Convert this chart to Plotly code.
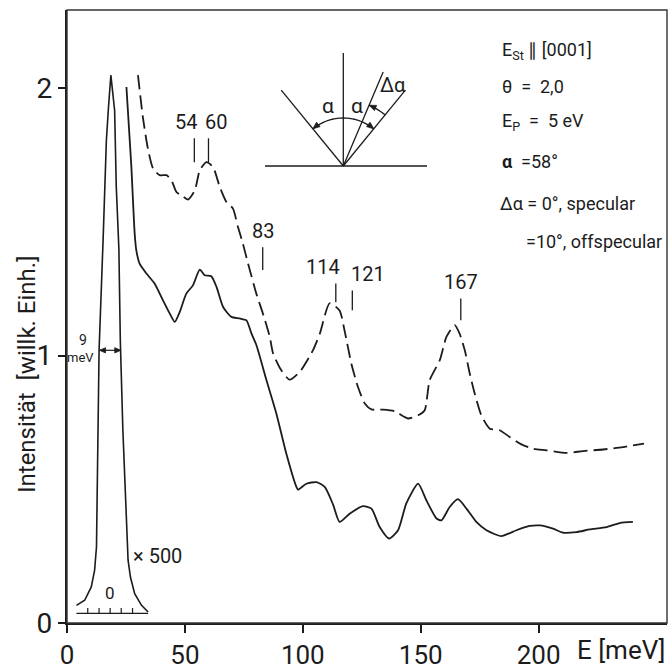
import numpy as np
import plotly.graph_objects as go

# ---------------------------------------------------------------- data
# specular spectrum (solid), energy loss in meV, intensity in arb. units
energy_specular = [25.2, 26.6, 27.3, 28.7, 29.4, 30.8, 33.7, 37.2, 40.7, 43.6, 45.7,
                   47.8, 50.6, 53.4, 56.3, 58.4, 61.2, 63.4, 66.2, 69.7, 73.2, 76.1,
                   78.2, 80.3, 84.6, 88.8, 93.0, 97.3, 98.0, 101.5, 105.8, 109.3,
                   112.8, 115.6, 119.9, 125.5, 129.1, 132.6, 136.6, 140.4, 143.9,
                   148.9, 152.4, 156.7, 158.8, 162.3, 165.8, 169.4, 173.6, 177.9,
                   184.2, 190.6, 196.2, 200.5, 206.1, 210.3, 216.0, 221.7, 228.8,
                   234.4, 240.0]
intensity_specular = [2.005, 1.806, 1.706, 1.457, 1.394, 1.344, 1.307, 1.269, 1.207,
                      1.157, 1.126, 1.163, 1.232, 1.263, 1.322, 1.301, 1.297, 1.257,
                      1.182, 1.145, 1.139, 1.132, 1.083, 1.040, 0.908, 0.783, 0.634,
                      0.509, 0.499, 0.521, 0.527, 0.509, 0.444, 0.378, 0.409, 0.437,
                      0.428, 0.359, 0.316, 0.347, 0.447, 0.521, 0.459, 0.391, 0.384,
                      0.434, 0.463, 0.428, 0.378, 0.347, 0.325, 0.347, 0.363, 0.365,
                      0.353, 0.338, 0.340, 0.350, 0.359, 0.374, 0.378]

# off-specular spectrum (dashed)
energy_offspecular = [30.1, 32.2, 34.4, 36.5, 39.3, 42.2, 44.3, 46.4, 48.5, 51.3, 54.2,
                      56.3, 59.1, 61.9, 64.8, 67.6, 70.4, 72.5, 74.6, 76.8, 80.3, 83.1,
                      86.0, 87.4, 90.9, 94.4, 98.7, 104.3, 107.2, 111.4, 115.6, 117.7,
                      120.6, 123.4, 126.3, 129.1, 134.0, 139.0, 144.6, 148.9, 151.7,
                      153.8, 158.1, 160.9, 164.4, 166.5, 168.7, 170.8, 172.9, 175.7,
                      179.3, 183.5, 187.7, 192.7, 197.6, 203.3, 211.8, 218.8, 227.3,
                      235.8, 244.7]
intensity_offspecular = [2.049, 1.890, 1.770, 1.700, 1.675, 1.675, 1.656, 1.612, 1.600,
                         1.584, 1.618, 1.693, 1.724, 1.706, 1.631, 1.575, 1.550, 1.481,
                         1.419, 1.344, 1.232, 1.157, 1.070, 1.008, 0.945, 0.910, 0.939,
                         1.020, 1.082, 1.196, 1.169, 1.094, 0.970, 0.883, 0.821, 0.799,
                         0.798, 0.792, 0.765, 0.777, 0.796, 0.908, 0.983, 1.070, 1.114,
                         1.082, 1.020, 0.933, 0.858, 0.777, 0.727, 0.721, 0.696, 0.668,
                         0.652, 0.646, 0.636, 0.643, 0.649, 0.658, 0.671]

# elastic peak, reduced by a factor of 500
energy_elastic = [4.0, 7.5, 10.3, 11.7, 12.5, 13.1, 13.6, 15.3, 16.7, 17.6, 18.6,
                  20.2, 20.9, 22.0, 22.6, 23.7, 25.2, 25.9, 26.9, 28.7, 31.6, 34.4]
intensity_elastic = [0.066, 0.085, 0.135, 0.197, 0.284, 0.596, 1.020, 1.431, 1.805,
                     1.930, 2.049, 1.917, 1.631, 1.400, 1.060, 0.721, 0.396, 0.235,
                     0.172, 0.110, 0.066, 0.041]
elastic_scale = 500
elastic_center = 18.3
elastic_fwhm = 9
elastic_scale_ticks = [8.8, 13.6, 18.3, 23.0, 27.8]

# loss peaks marked on the off-specular spectrum (meV)
peak_energies = [54, 60, 83, 114, 121, 167]

x_ticks = [0, 50, 100, 150, 200]
y_ticks = [0, 1, 2]

# ---------------------------------------------------------------- layout helpers
W, H = 670, 671
ML, MR, MT, MB = 67, 3, 10, 48
PW, PH = W - ML - MR, H - MT - MB
X_PER_MEV = 2.358
Y_PER_UNIT = 267.35
X_MAX = PW / X_PER_MEV
Y_MAX = PH / Y_PER_UNIT
INK = "#1c1c1c"
FONT = "Roboto, 'Liberation Sans', sans-serif"


def fx(p):
    """page pixel column -> paper x"""
    return (p - ML) / PW


def fy(p):
    """page pixel row -> paper y"""
    return (H - MB - p) / PH


def page_x(e):
    return ML + e * X_PER_MEV


def page_y(v):
    return H - MB - v * Y_PER_UNIT


fig = go.Figure()

fig.add_trace(go.Scatter(x=energy_elastic, y=intensity_elastic, mode="lines",
                         line=dict(color=INK, width=1.6), hoverinfo="skip"))
fig.add_trace(go.Scatter(x=energy_specular, y=intensity_specular, mode="lines",
                         line=dict(color=INK, width=1.8, shape="spline", smoothing=0.6),
                         hoverinfo="skip"))
fig.add_trace(go.Scatter(x=energy_offspecular, y=intensity_offspecular, mode="lines",
                         line=dict(color=INK, width=1.8, shape="spline", smoothing=0.6,
                                   dash="14px,6px"),
                         hoverinfo="skip"))

shapes = []
annotations = []


def label(px_, py_, text, size, xanchor="center", yanchor="middle", angle=0):
    annotations.append(dict(x=fx(px_), y=fy(py_), xref="paper", yref="paper", text=text,
                            showarrow=False, xanchor=xanchor, yanchor=yanchor,
                            textangle=angle, font=dict(size=size)))


def seg(p0, p1, width=1.3):
    shapes.append(dict(type="line", xref="paper", yref="paper",
                       x0=fx(p0[0]), y0=fy(p0[1]), x1=fx(p1[0]), y1=fy(p1[1]),
                       line=dict(color=INK, width=width)))


def arrowhead(tip, direction, length=7.0, half=2.8):
    """filled arrowhead with its tip at `tip` (page px), pointing along `direction`"""
    d = np.asarray(direction, float)
    d /= np.hypot(*d)
    n = np.array([-d[1], d[0]])
    t = np.asarray(tip, float)
    b = t - length * d
    pts = [t, b + half * n, b - half * n]
    path = "M " + " L ".join(f"{fx(p[0]):.5f},{fy(p[1]):.5f}" for p in pts) + " Z"
    shapes.append(dict(type="path", xref="paper", yref="paper", path=path,
                       fillcolor=INK, line=dict(color=INK, width=0.8)))


# frame (top/right thinner than the axes)
shapes.append(dict(type="rect", xref="paper", yref="paper", x0=0, y0=0, x1=1, y1=1,
                   line=dict(color="#333", width=1.4), layer="above"))

# elastic peak energy scale
scale_y = 0.036
shapes.append(dict(type="line", xref="x", yref="y", x0=energy_elastic[0], x1=energy_elastic[-1],
                   y0=scale_y, y1=scale_y, line=dict(color=INK, width=1.4)))
for t in elastic_scale_ticks:
    shapes.append(dict(type="line", xref="x", yref="y", x0=t, x1=t, y0=scale_y, y1=scale_y + 0.02,
                       line=dict(color=INK, width=1.2)))
label(page_x(elastic_center), page_y(scale_y + 0.075), "0", 17)
label(page_x(elastic_center + 9), page_y(0.25), f"× {elastic_scale}", 20, xanchor="left")

# FWHM double arrow
fw_y = 1.02
xa, xb = page_x(elastic_center - elastic_fwhm / 2), page_x(elastic_center + elastic_fwhm / 2)
seg((xa, page_y(fw_y)), (xb, page_y(fw_y)), 1.2)
arrowhead((xa, page_y(fw_y)), (-1, 0), 6, 2.6)
arrowhead((xb, page_y(fw_y)), (1, 0), 6, 2.6)
label(82.5, 340, str(elastic_fwhm), 14)
label(80.5, 357, "meV", 13)

# peak markers with labels
marker_spec = {54: (1.723, 1.813, "right", 5), 60: (1.723, 1.813, "left", -5),
               83: (1.32, 1.405, "center", 0), 114: (1.20, 1.27, "right", 6),
               121: (1.17, 1.244, "left", -3), 167: (1.132, 1.214, "center", 0)}
for e in peak_energies:
    y0, y1, anchor, shift = marker_spec[e]
    shapes.append(dict(type="line", xref="x", yref="y", x0=e, x1=e, y0=y0, y1=y1,
                       line=dict(color=INK, width=1.3)))
    label(page_x(e) + shift, page_y(y1) - 2, str(e), 20, xanchor=anchor, yanchor="bottom")

# scattering geometry sketch
cx, cy = 343.3, 166.0
th_in, th_sp, th_off = -39.3, 39.3, 23.0


def ray(theta, length):
    t = np.radians(theta)
    return cx + length * np.sin(t), cy - length * np.cos(t)


seg((265, cy), (427, cy))
seg((cx, cy), (cx, 53))
seg((cx, cy), ray(th_in, 98))
seg((cx, cy), ray(th_sp, 98))
seg((cx, cy), ray(th_off, 102))


def arc(r, a0, a1):
    pts = [ray(a, r) for a in np.linspace(a0, a1, 40)]
    d = "M " + " L ".join(f"{fx(px_):.5f},{fy(py_):.5f}" for px_, py_ in pts)
    shapes.append(dict(type="path", xref="paper", yref="paper", path=d,
                       line=dict(color=INK, width=1.3)))


def arc_head(r, theta, sign):
    t = np.radians(theta)
    arrowhead(ray(theta, r), (np.cos(t) * sign, np.sin(t) * sign), 7, 2.8)


arc(48, th_in, th_sp)
arc_head(48, th_in, -1)
arc_head(48, th_sp, 1)
arc(66, th_off, th_sp)
arc_head(66, th_off, -1)

label(327.5, 106, "α", 21)
label(356.5, 106, "α", 21)
label(393, 85, "Δα", 20)

# measurement parameters
info = [("E<sub>St</sub> ∥ [0001]", 500, 51),
        ("θ  =  2,0", 500, 86.5),
        ("E<sub>P</sub>  =  5 eV", 500, 122),
        ("<b>α</b>  =58°", 500, 162),
        ("Δα = 0°, specular", 498, 203),
        ("=10°, offspecular", 524, 241)]
for txt, px_, py_ in info:
    label(px_, py_, txt, 18, xanchor="left")

# axis titles
label(27, 374, "Intensität  [willk. Einh.]", 24, angle=-90)
label(667, 650, "E [meV]", 26, xanchor="right")

fig.update_layout(
    width=W, height=H,
    margin=dict(l=ML, r=MR, t=MT, b=MB, pad=0, autoexpand=False),
    paper_bgcolor="white", plot_bgcolor="white",
    showlegend=False,
    font=dict(family=FONT, color=INK),
    shapes=shapes, annotations=annotations,
    xaxis=dict(range=[0, X_MAX], tickvals=x_ticks, ticks="outside", ticklen=8,
               tickwidth=1.5, tickcolor=INK, showline=True, linewidth=2.2,
               linecolor=INK, showgrid=False, zeroline=False, automargin=False,
               tickfont=dict(size=26)),
    yaxis=dict(range=[0, Y_MAX], tickvals=y_ticks, ticks="outside", ticklen=7,
               tickwidth=1.5, tickcolor=INK, showline=True, linewidth=2.2,
               linecolor=INK, showgrid=False, zeroline=False, automargin=False,
               tickfont=dict(size=28)),
)

fig.write_html("out.html")
